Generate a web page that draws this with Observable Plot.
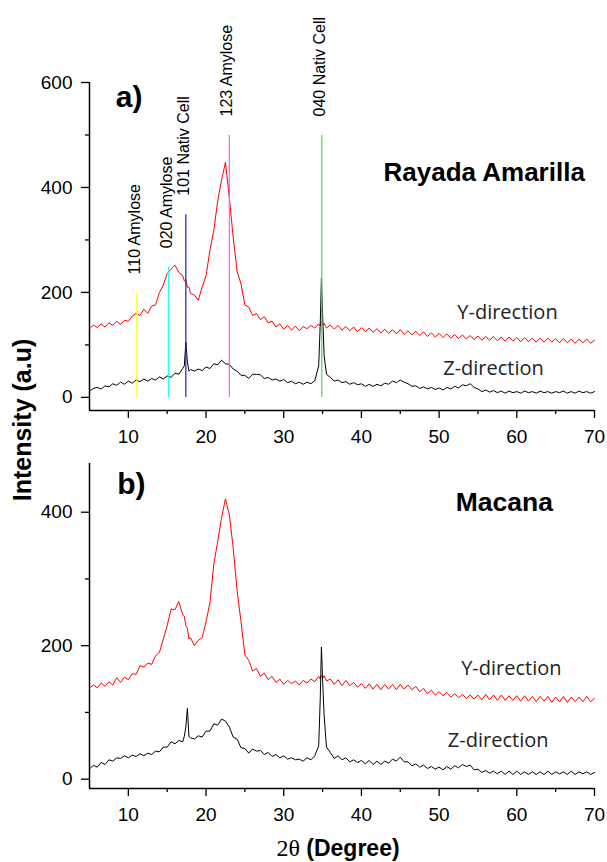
<!DOCTYPE html>
<html><head><meta charset="utf-8">
<script src="https://cdn.jsdelivr.net/npm/d3@7"></script>
<script src="https://cdn.jsdelivr.net/npm/@observablehq/plot@0.6"></script>
<style>
body{margin:0;background:#fff;}
#wrap{position:relative;width:607px;height:862px;overflow:hidden;background:#fff;font-family:"Liberation Sans",Arial,sans-serif;color:#000;}
#pa{position:absolute;left:0;top:0;}
#pb{position:absolute;left:0;top:450px;}
#ylab{position:absolute;left:22px;top:420px;transform:translate(-50%,-50%) rotate(-90deg);font-weight:bold;font-size:25px;white-space:nowrap;}
#xlab{position:absolute;left:338px;top:848px;transform:translate(-50%,-50%);font-size:23px;white-space:nowrap;}
</style></head>
<body>
<div id="wrap">
  <div id="pa"></div>
  <div id="pb"></div>
  <div id="ylab">Intensity (a.u)</div>
  <div id="xlab"><span style="font-family:'Liberation Serif','DejaVu Serif',serif;font-size:24px">2θ</span> <b>(Degree)</b></div>
</div>
<script>
// 2θ angles (degrees)
const angles = [
  5,5.5,6,6.5,7,7.5,8,8.5,9,9.5,
  10,10.5,11,11.5,12,12.5,13,13.5,14,14.5,
  15,15.5,16,16.5,17,17.2,17.4,17.6,17.8,18,
  18.5,19,19.5,20,20.5,21,21.5,22,22.5,23,
  23.5,24,24.5,25,25.5,26,26.5,27,27.5,28,
  28.5,29,29.5,30,30.5,31,31.5,32,32.5,33,
  33.5,34,34.5,34.7,34.85,35,35.2,35.5,36,36.5,
  37,37.5,38,38.5,39,39.5,40,40.5,41,41.5,
  42,42.5,43,43.5,44,44.5,45,45.5,46,46.5,
  47,47.5,48,48.5,49,49.5,50,50.5,51,51.5,
  52,52.5,53,53.5,54,54.5,55,55.5,56,56.5,
  57,57.5,58,58.5,59,59.5,60,60.5,61,61.5,
  62,62.5,63,63.5,64,64.5,65,65.5,66,66.5,
  67,67.5,68,68.5,69,69.5,70
];
// a) Rayada Amarilla
const rayadaY = [
  130,138,133,140,134,142,137,145,139,147,
  145,155,160,156,168,160,174,176,200,214,
  236,244,252,238,232,222,224,210,210,198,
  195,185,210,232,280,318,374,414,448,380,
  304,240,216,176,172,156,160,148,154,142,
  145,134,140,130,137,128,136,127,135,131,
  137,132,140,136,145,138,141,132,138,130,
  137,128,135,127,134,125,133,125,132,124,
  131,123,130,122,129,121,129,120,127,119,
  126,118,125,116,123,115,122,114,121,113,
  120,112,119,111,118,110,117,109,116,109,
  116,108,115,107,115,107,114,106,114,106,
  113,105,113,105,113,105,112,104,112,104,
  111,103,111,104,111,103,109
];
const rayadaZ = [
  12,17,19,16,22,20,26,23,29,25,
  31,27,33,30,35,31,36,33,39,35,
  41,38,46,44,55,60,105,68,50,53,
  50,54,51,58,55,64,62,71,64,63,
  54,50,42,42,36,44,44,43,36,38,
  33,35,31,34,28,31,26,29,25,29,
  26,32,60,140,227,160,80,44,38,31,
  33,28,30,25,28,24,26,21,25,21,
  25,22,27,25,31,28,33,29,26,21,
  22,17,20,16,19,15,18,14,19,16,
  21,18,24,22,26,19,16,11,14,10,
  13,9,12,8,12,9,11,8,12,9,
  11,8,12,9,11,8,11,9,12,8,
  11,8,12,9,11,8,11
];
// b) Macana
const macanaY = [
  136,141,137,144,139,146,141,152,145,153,
  149,158,157,170,168,174,172,185,190,210,
  230,255,254,266,246,244,230,226,210,212,
  200,208,212,236,264,322,356,392,420,396,
  346,282,236,186,178,162,166,154,159,149,
  154,145,150,142,148,143,147,141,148,144,
  150,146,154,150,155,151,155,147,150,142,
  149,140,148,140,145,138,143,136,143,135,
  142,134,142,135,142,134,142,135,141,134,
  139,131,136,128,133,126,131,125,130,123,
  128,122,127,121,126,120,126,119,127,119,
  126,118,126,118,125,118,125,117,125,117,
  124,116,124,117,124,115,123,116,124,115,
  123,116,123,116,124,116,121
];
const macanaZ = [
  15,21,18,25,22,29,27,32,31,35,
  32,36,34,38,35,39,37,42,41,48,
  48,56,53,58,56,64,78,106,64,62,
  60,65,63,72,72,83,81,90,87,78,
  63,60,47,46,39,45,42,43,37,40,
  34,37,32,35,30,32,29,30,27,32,
  29,35,50,120,198,150,95,48,40,31,
  35,29,32,26,29,25,28,23,28,22,
  27,22,27,24,30,27,33,26,26,20,
  23,18,21,16,19,15,18,14,19,15,
  20,17,22,19,21,14,15,10,13,9,
  12,8,12,7,12,7,12,7,11,7,
  11,7,11,7,12,7,11,8,11,7,
  12,7,11,8,11,7,10
];
// reflection markers (panel a)
const peakLabels = ["110 Amylose","020 Amylose","101 Nativ Cell","123 Amylose","040 Nativ Cell"];
const peakAngles = [11.1, 15.2, 17.4, 23.0, 34.9];
const peakHeights = [198, 248, 348, 499, 499];
// ticks
const xTicks = [10,20,30,40,50,60,70];
const xMinorTicks = [15,25,35,45,55,65];
const yTicksA = [0,200,400,600];
const yMinorA = [100,300,500];
const yTicksB = [0,200,400];
const yMinorB = [100,300];

const peaks = peakLabels.map((label,i)=>({label, angle: peakAngles[i], top: peakHeights[i]}));
const FONT = "'Liberation Sans', Arial, sans-serif";
const CAL = "'Open Sans', 'Noto Sans', sans-serif";

function axes(yTicks, yMinor, yMin){
  return [
    Plot.axisX({ticks: xTicks, tickSize: 8, tickPadding: 11, label: null, fontSize: 19, strokeWidth: 1.3}),
    Plot.axisX({ticks: xMinorTicks, tickSize: 4, text: null, label: null, strokeWidth: 1.3}),
    Plot.axisY({ticks: yTicks, tickSize: 8, tickPadding: 9, label: null, fontSize: 19, strokeWidth: 1.3}),
    Plot.axisY({ticks: yMinor, tickSize: 4, text: null, label: null, strokeWidth: 1.3}),
    Plot.ruleX([5], {strokeWidth: 1.5}),
    Plot.ruleY([yMin], {strokeWidth: 1.5})
  ];
}

const plotA = Plot.plot({
  width: 607, height: 450,
  marginLeft: 89, marginRight: 13, marginTop: 82, marginBottom: 40,
  style: {fontFamily: FONT, background: "white", color: "black", overflow: "visible"},
  x: {domain: [5,70]},
  y: {domain: [-25,600]},
  color: {domain: peakLabels, range: ["#ffff00","#00ffff","#1a1acc","#ff55ff","#44e044"]},
  marks: [
    ...axes(yTicksA, yMinorA, -25),
    Plot.lineY(rayadaY, {x: angles, stroke: "#ff0000", strokeWidth: 1}),
    Plot.lineY(rayadaZ, {x: angles, stroke: "#000", strokeWidth: 1}),
    Plot.ruleX(peaks, {x: "angle", y1: 0, y2: "top", stroke: "label", strokeWidth: 1.2}),
    Plot.text(peaks, {x: "angle", y: "top", text: "label", rotate: -90, textAnchor: "start", dy: -19, dx: -2, fontSize: 16}),
    Plot.text(["a)"], {x: 10.1, y: 572, fontSize: 30, fontWeight: "bold"}),
    Plot.text(["Rayada Amarilla"], {x: 55.8, y: 429, fontSize: 26, fontWeight: "bold"}),
    Plot.text(["Y-direction"], {x: 58.8, y: 162, fontSize: 20, fontFamily: CAL, fill: "#222"}),
    Plot.text(["Z-direction"], {x: 57.0, y: 55, fontSize: 20, fontFamily: CAL, fill: "#222"})
  ]
});
document.getElementById("pa").appendChild(plotA);

const plotB = Plot.plot({
  width: 607, height: 412,
  marginLeft: 89, marginRight: 13, marginTop: 13, marginBottom: 74,
  style: {fontFamily: FONT, background: "white", color: "black", overflow: "visible"},
  x: {domain: [5,70]},
  y: {domain: [-14,473]},
  marks: [
    ...axes(yTicksB, yMinorB, -14),
    Plot.lineY(macanaY, {x: angles, stroke: "#ff0000", strokeWidth: 1}),
    Plot.lineY(macanaZ, {x: angles, stroke: "#000", strokeWidth: 1}),
    Plot.text(["b)"], {x: 10.4, y: 441, fontSize: 30, fontWeight: "bold"}),
    Plot.text(["Macana"], {x: 58.4, y: 415, fontSize: 26.5, fontWeight: "bold"}),
    Plot.text(["Y-direction"], {x: 59.3, y: 166, fontSize: 20, fontFamily: CAL, fill: "#222"}),
    Plot.text(["Z-direction"], {x: 57.6, y: 58, fontSize: 20, fontFamily: CAL, fill: "#222"})
  ]
});
document.getElementById("pb").appendChild(plotB);
</script>
</body></html>
